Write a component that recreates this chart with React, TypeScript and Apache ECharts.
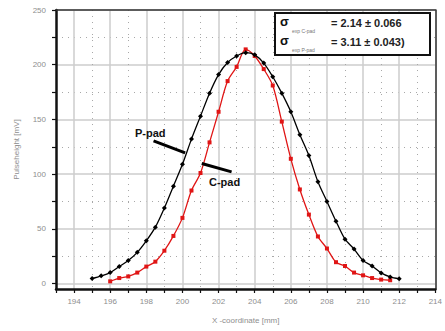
import React, { useEffect, useRef } from "react";
import * as echarts from "echarts";

// P-pad (black) measured points
const pPadX = [195, 195.5, 196, 196.5, 197, 197.5, 198, 198.5, 199, 199.5, 200, 200.5, 201, 201.5, 202, 202.5, 203, 203.5, 204, 204.5, 205, 205.5, 206, 206.5, 207, 207.5, 208, 208.5, 209, 209.5, 210, 210.5, 211, 211.5, 212];
const pPadY = [4.5, 7, 10, 15.5, 21, 28.5, 39, 51.5, 69, 89, 109, 132, 153, 174, 191, 202, 208, 211, 209, 201.5, 189, 174, 157, 136, 117, 93, 75, 57, 40.5, 31.5, 21, 16, 9.7, 6, 4.3];

// C-pad (red) measured points
const cPadX = [196, 196.5, 197, 197.5, 198, 198.5, 199, 199.5, 200, 200.5, 201, 201.5, 202, 202.5, 203, 203.5, 204, 204.5, 205, 205.5, 206, 206.5, 207, 207.5, 208, 208.5, 209, 209.5, 210, 210.5, 211, 211.5];
const cPadY = [2, 5, 6.5, 10, 15.5, 20, 30, 43.5, 60, 85, 101, 129, 157, 185, 198, 214, 208, 196, 181, 148, 114, 86, 63, 43, 32, 19.5, 16, 10, 7.5, 5, 3.6, 3];

// axes
const xMin = 193;
const xMax = 214;
const yMin = -5;
const yMax = 250;
const yTickValues = [0, 25, 50, 75, 100, 125, 150, 175, 200, 225, 250];
const yLabelValues = [0, 50, 100, 150, 200, 250];

// annotation pointer lines (data coordinates)
const pArrow = [[198.4, 130.3], [200.15, 119.4]];
const cArrow = [[201.07, 109.7], [202.72, 102.1]];

const legendLines = [
  { sub: "exp C-pad", text: "= 2.14 ± 0.066" },
  { sub: "exp P-pad", text: "= 3.11 ± 0.043)" },
];

const zip = (xs: number[], ys: number[]) => xs.map((x, i) => [x, ys[i]]);

export default function App() {
  const ref = useRef<HTMLDivElement>(null);
  useEffect(() => {
    if (!ref.current) return;
    const chart = echarts.init(ref.current, undefined, { renderer: "svg" });
    const labelColor = "#8e8e8e";
    const font = "Liberation Sans, Arial, sans-serif";
    const gridColor = "#cdcdcd";
    const dotColor = "#a8a8a8";

    const legendGraphics: any[] = [
      {
        type: "rect",
        shape: { x: 275, y: 13, width: 155, height: 42 },
        style: { fill: "#fff", stroke: "#111", lineWidth: 2 },
        z: 100,
      },
    ];
    legendLines.forEach((l, i) => {
      const y0 = 17 + i * 19;
      legendGraphics.push(
        {
          type: "text",
          x: 280,
          y: y0 - 2,
          style: { text: "σ", font: `bold 13px ${font}`, fill: "#111" },
          z: 101,
        },
        {
          type: "text",
          x: 292,
          y: y0 + 11,
          style: { text: l.sub, font: `5px ${font}`, fill: "#777" },
          z: 101,
        },
        {
          type: "text",
          x: 331,
          y: y0,
          style: { text: l.text, font: `bold 11px ${font}`, fill: "#222" },
          z: 101,
        }
      );
    });

    chart.setOption({
      animation: false,
      grid: { left: 56, right: 8, top: 10, bottom: 42, containLabel: false },
      xAxis: [
        {
          type: "value",
          position: "bottom",
          min: xMin,
          max: xMax,
          interval: 1,
          name: "X -coordinate [mm]",
          nameLocation: "middle",
          nameGap: 27,
          nameTextStyle: { color: labelColor, fontSize: 8, fontFamily: font },
          axisLine: { show: true, onZero: false, lineStyle: { color: "#111", width: 2.5 } },
          axisTick: { show: true, inside: false, length: 4, lineStyle: { color: "#111", width: 1.2 } },
          axisLabel: {
            color: labelColor,
            fontSize: 8,
            fontFamily: font,
            margin: 8,
            formatter: (v: number) => (Math.round(v) % 2 === 0 ? String(v) : ""),
          },
          splitLine: { show: true, lineStyle: { color: ["transparent", gridColor], width: 1.5 } },
        },
        {
          type: "value",
          position: "top",
          min: xMin,
          max: xMax,
          interval: 1,
          axisLine: { show: true, onZero: false, lineStyle: { color: "#333", width: 1.5 } },
          axisTick: { show: false },
          axisLabel: { show: false },
          splitLine: { show: true, lineStyle: { color: [dotColor, "transparent"], width: 1, type: [1, 5] } },
        },
      ],
      yAxis: [
        {
          type: "value",
          position: "left",
          min: yMin,
          max: yMax,
          name: "Pulseheight [mV]",
          nameLocation: "middle",
          nameGap: 36,
          nameTextStyle: { color: labelColor, fontSize: 8, fontFamily: font },
          axisLine: { show: true, onZero: false, lineStyle: { color: "#111", width: 2.5 } },
          axisTick: { show: true, inside: false, length: 4, customValues: yTickValues, lineStyle: { color: "#111", width: 1.2 } },
          axisLabel: { color: labelColor, fontSize: 8, fontFamily: font, margin: 10, customValues: yLabelValues },
          splitLine: { show: true, lineStyle: { color: [gridColor, "transparent"], width: 1.5 } },
        },
        {
          type: "value",
          position: "right",
          min: yMin,
          max: yMax,
          axisLine: { show: true, onZero: false, lineStyle: { color: "#333", width: 1.5 } },
          axisTick: { show: false, customValues: yTickValues },
          axisLabel: { show: false, customValues: yLabelValues },
          splitLine: { show: true, lineStyle: { color: ["transparent", dotColor], width: 1, type: [1, 5] } },
        },
      ],
      series: [
        {
          name: "C-pad",
          type: "line",
          xAxisIndex: 0,
          yAxisIndex: 0,
          data: zip(cPadX, cPadY),
          smooth: 0.3,
          symbol: "rect",
          symbolSize: 4,
          itemStyle: { color: "#e01515" },
          lineStyle: { color: "#e01515", width: 1.3 },
          z: 3,
        },
        {
          name: "P-pad",
          type: "line",
          xAxisIndex: 0,
          yAxisIndex: 0,
          data: zip(pPadX, pPadY),
          smooth: 0.3,
          symbol: "diamond",
          symbolSize: 5,
          itemStyle: { color: "#000" },
          lineStyle: { color: "#000", width: 1.3 },
          z: 4,
          markLine: {
            silent: true,
            symbol: ["none", "none"],
            label: { show: false },
            lineStyle: { color: "#000", width: 3, type: "solid" },
            data: [
              [{ coord: pArrow[0] }, { coord: pArrow[1] }],
              [{ coord: cArrow[0] }, { coord: cArrow[1] }],
            ],
          },
        },
      ],
      graphic: [
        {
          type: "text",
          x: 135,
          y: 127,
          style: { text: "P-pad", font: `bold 11px ${font}`, fill: "#111" },
          z: 50,
        },
        {
          type: "text",
          x: 209,
          y: 176,
          style: { text: "C-pad", font: `bold 11px ${font}`, fill: "#111" },
          z: 50,
        },
        ...legendGraphics,
      ],
    });
    return () => chart.dispose();
  }, []);
  return <div ref={ref} style={{ width: 445, height: 331, position: "absolute", left: 0, top: 0 }} />;
}
